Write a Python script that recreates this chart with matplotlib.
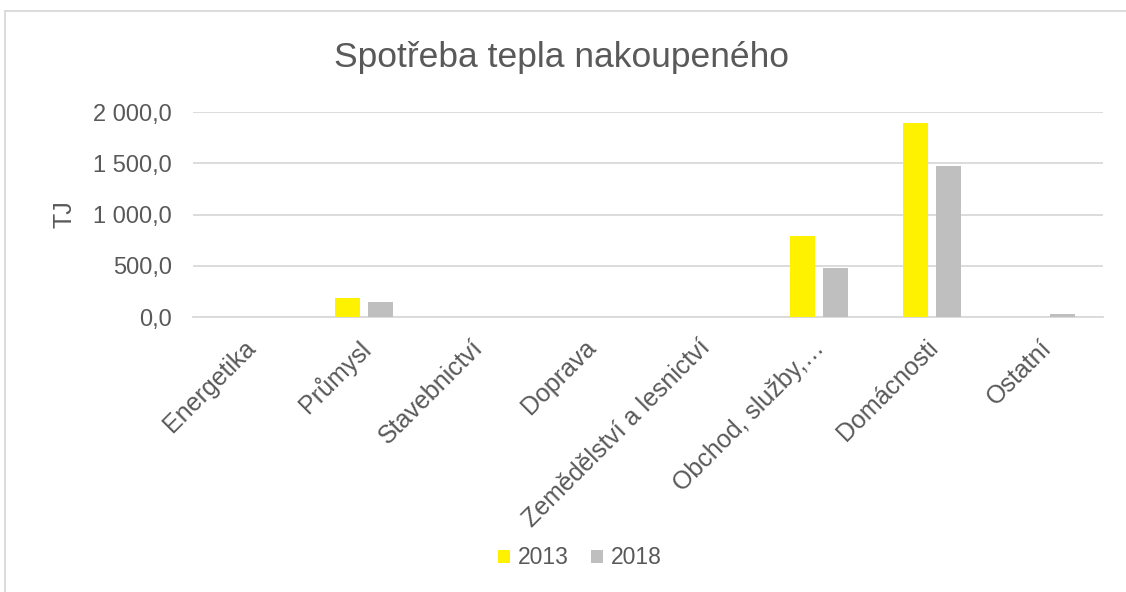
import numpy as np
import matplotlib.pyplot as plt
from matplotlib.ticker import FuncFormatter
from matplotlib.transforms import ScaledTranslation

kategorie = ["Energetika", "Průmysl", "Stavebnictví", "Doprava", "Zemědělství a lesnictví",
             "Obchod, služby,…", "Domácnosti", "Ostatní"]
v2013 = [0, 186, 0, 0, 0, 787, 1895, 0]
v2018 = [0, 147, 0, 0, 0, 477, 1473, 32]

plt.rcParams['font.family'] = ['Liberation Sans', 'DejaVu Sans']
sedy = "#595959"

fig = plt.figure(figsize=(11.26, 5.92), dpi=100)
ax = fig.add_axes([193/1126, 1 - 317/592, 910/1126, 205/592])

x = np.arange(len(kategorie))
w = 0.22
ax.bar(x - 0.145, v2013, w, color="#FFF200", label="2013", zorder=3)
ax.bar(x + 0.145, v2018, w, color="#BFBFBF", label="2018", zorder=3)

ax.set_xlim(-0.5, len(kategorie) - 0.5)
ax.set_ylim(0, 2000)
ax.set_yticks([0, 500, 1000, 1500, 2000])
ax.yaxis.set_major_formatter(FuncFormatter(lambda v, p: f"{v:,.1f}".replace(",", " ").replace(".", ",")))
ax.grid(axis="y", color="#D9D9D9", linewidth=1.3, zorder=0)
ax.tick_params(axis="y", length=0, labelsize=17, labelcolor=sedy, pad=15)
ax.tick_params(axis="x", length=0, labelsize=18, labelcolor=sedy, pad=12)
ax.set_xticks(x)
ax.set_xticklabels(kategorie, rotation=45, ha="right", rotation_mode="anchor")
posun = ScaledTranslation(-7/100, -2/100, fig.dpi_scale_trans)
for lbl in ax.get_xticklabels():
    lbl.set_transform(lbl.get_transform() + posun)
for s in ["top", "right", "left"]:
    ax.spines[s].set_visible(False)
ax.spines["bottom"].set_color("#D9D9D9")
ax.spines["bottom"].set_linewidth(1.3)
ax.set_ylabel("TJ", fontsize=18, color=sedy, labelpad=12)

fig.text(562/1126, 1 - 57/592, "Spotřeba tepla nakoupeného", ha="center", va="center",
         fontsize=25.5, color=sedy)

fig.legend(loc="center", bbox_to_anchor=(580/1126, 1 - 558/592), ncol=2, frameon=False,
           fontsize=16.5, labelcolor=sedy, handlelength=0.5, handleheight=0.5,
           handletextpad=0.35, columnspacing=1.0)

# ramecek grafu
fig.add_artist(plt.Line2D([5/1126, 5/1126], [0, 1 - 11/592], color="#D9D9D9", lw=1.3))
fig.add_artist(plt.Line2D([5/1126, 1], [1 - 11/592, 1 - 11/592], color="#D9D9D9", lw=1.3))

plt.savefig("out.png", dpi=100)
